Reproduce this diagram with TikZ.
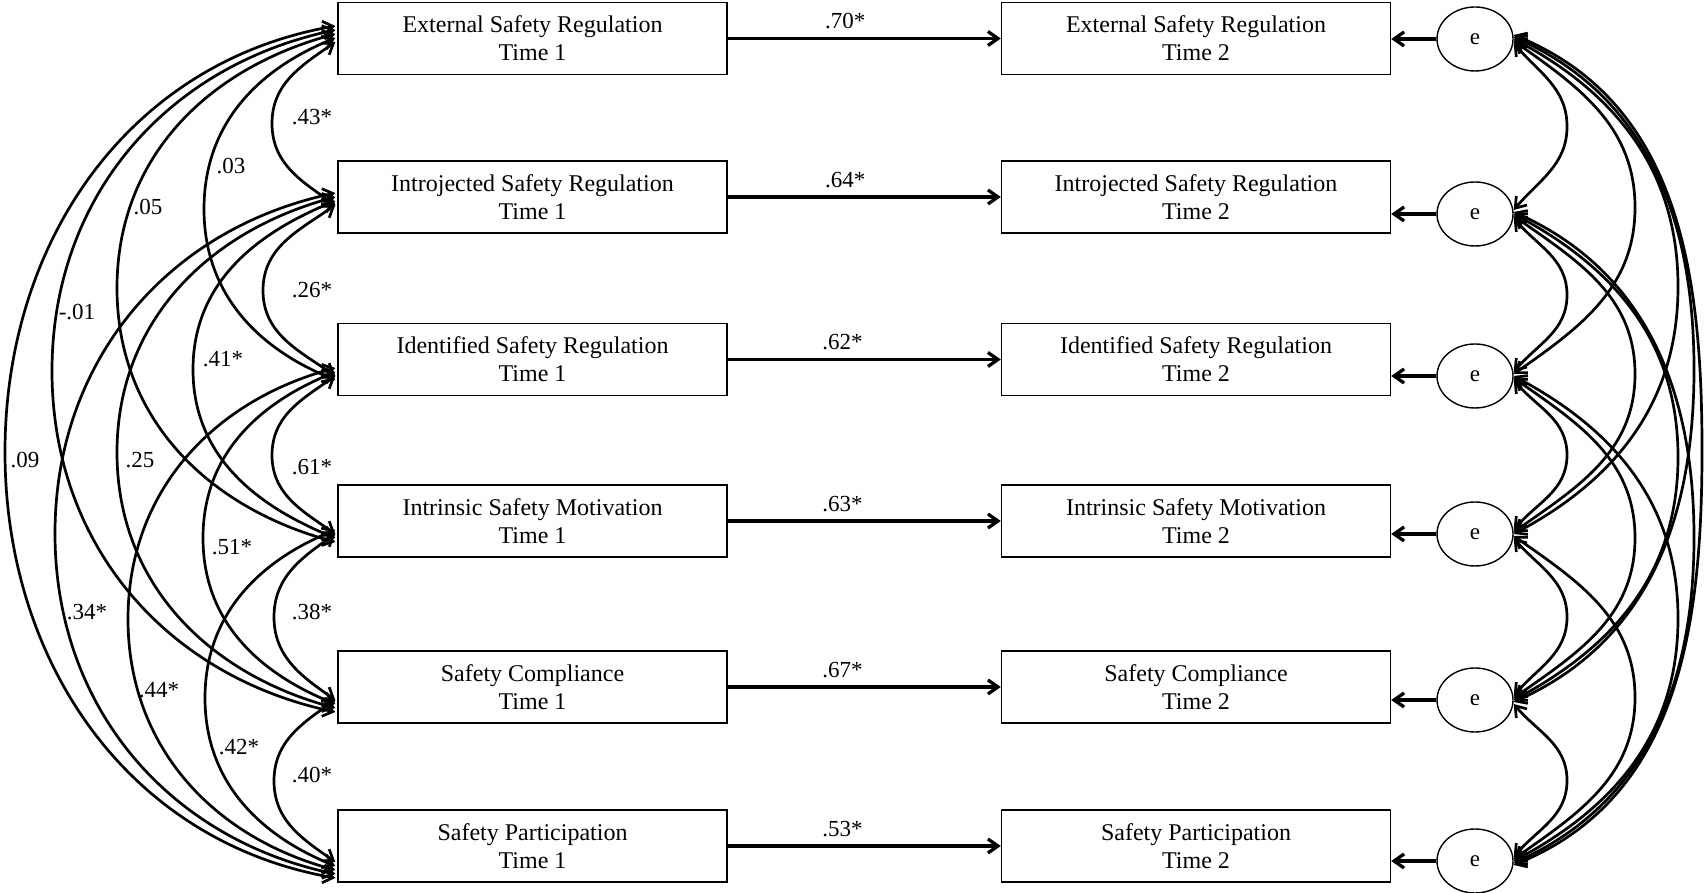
\documentclass[tikz,border=0pt]{standalone}
\usepackage{fontspec}
\setmainfont{Liberation Serif}
\usetikzlibrary{arrows.meta,shapes.geometric,calc}

% correlation arc bulging to the left between two attachment points
\newcommand\corrL[6]{%
  \draw[corr] let \p1=([yshift=#3pt]#1), \p2=([yshift=#4pt]#2) in
    (\p1) to[out={180+#6},in=90] (#5,{(\y1+\y2)/2}) to[out=270,in={180-#6}] (\p2);}
% correlation arc bulging to the right between two error terms
\newcommand\corrR[6]{%
  \draw[corr] let \p1=([yshift=#3pt]#1), \p2=([yshift=#4pt]#2) in
    (\p1) to[out={-#6},in=90] (#5,{(\y1+\y2)/2}) to[out=270,in={#6}] (\p2);}

\begin{document}
\begin{tikzpicture}[x=1pt,y=1pt,
  >={Straight Barb[length=10pt,width=14pt]},
  varbox/.style={draw, line width=1.4pt, minimum width=389pt, minimum height=72pt,
    align=center, inner sep=0pt, font=\fontsize{24}{28}\selectfont},
  errnode/.style={draw, ellipse, line width=1.4pt, minimum width=76pt,
    minimum height=64pt, inner sep=0pt, font=\fontsize{23}{26}\selectfont},
  path/.style={->, line width=3.3pt},
  corr/.style={<->, line width=2.7pt},
  coef/.style={font=\fontsize{23}{28}\selectfont, inner sep=0pt}
]
\useasboundingbox (0,0) rectangle (1707,893);

% Time 1 measures
\node[varbox] (T1) at (532.5,854.5) {External Safety Regulation\\Time 1};
\node[varbox] (T2) at (532.5,696)   {Introjected Safety Regulation\\Time 1};
\node[varbox] (T3) at (532.5,533.5) {Identified Safety Regulation\\Time 1};
\node[varbox] (T4) at (532.5,372)   {Intrinsic Safety Motivation\\Time 1};
\node[varbox] (T5) at (532.5,206)   {Safety Compliance\\Time 1};
\node[varbox] (T6) at (532.5,47)    {Safety Participation\\Time 1};

% Time 2 measures
\node[varbox] (S1) at (1196,854.5) {External Safety Regulation\\Time 2};
\node[varbox] (S2) at (1196,696)   {Introjected Safety Regulation\\Time 2};
\node[varbox] (S3) at (1196,533.5) {Identified Safety Regulation\\Time 2};
\node[varbox] (S4) at (1196,372)   {Intrinsic Safety Motivation\\Time 2};
\node[varbox] (S5) at (1196,206)   {Safety Compliance\\Time 2};
\node[varbox] (S6) at (1196,47)    {Safety Participation\\Time 2};

% error terms
\node[errnode] (e1) at (1475,854) {e};
\node[errnode] (e2) at (1475,679) {e};
\node[errnode] (e3) at (1475,517) {e};
\node[errnode] (e4) at (1475,359) {e};
\node[errnode] (e5) at (1475,193) {e};
\node[errnode] (e6) at (1475,32)  {e};

% stability paths
\draw[path] (T1) -- node[coef, pos=.43, yshift=17pt] (c1) {.70*} (S1);
\draw[path] (T2) -- node[coef, pos=.43, yshift=17pt] (c2) {.64*} (S2);
\draw[path] (T3) -- node[coef, pos=.42, yshift=17pt] (c3) {.62*} (S3);
\draw[path] (T4) -- node[coef, pos=.42, yshift=17pt] (c4) {.63*} (S4);
\draw[path] (T5) -- node[coef, pos=.42, yshift=17pt] (c5) {.67*} (S5);
\draw[path] (T6) -- node[coef, pos=.42, yshift=17pt] (c6) {.53*} (S6);

% error paths
\foreach \i in {1,...,6} \draw[path] (e\i) -- (e\i -| S\i.east);

% attachment points on the left of the Time 1 boxes
\path (T1.west |- 0,851) ++(-2,0) coordinate (a1);
\path (T2.west |- 0,688) ++(-2,0) coordinate (a2);
\path (T3.west |- 0,517) ++(-2,0) coordinate (a3);
\path (T4.west |- 0,359) ++(-2,0) coordinate (a4);
\path (T5.west |- 0,193) ++(-2,0) coordinate (a5);
\path (T6.west |- 0,31)  ++(-2,0) coordinate (a6);

% Time 1 correlations
\corrL{a1}{a2}{0}{0}{272}{35}
\corrL{a2}{a3}{0}{0}{263}{35}
\corrL{a3}{a4}{0}{0}{272}{35}
\corrL{a4}{a5}{0}{0}{274}{35}
\corrL{a5}{a6}{0}{0}{274}{35}
\corrL{a1}{a3}{4}{-4}{204}{22}
\corrL{a2}{a4}{4}{-4}{193}{22}
\corrL{a3}{a5}{4}{-4}{203}{22}
\corrL{a4}{a6}{4}{-4}{205}{22}
\corrL{a1}{a4}{8}{-8}{117}{15}
\corrL{a2}{a5}{8}{-8}{117}{15}
\corrL{a3}{a6}{8}{-8}{128}{15}
\corrL{a1}{a5}{12}{-12}{52}{12}
\corrL{a2}{a6}{12}{-12}{55}{12}
\corrL{a1}{a6}{16}{-16}{5}{10}

% correlation values
\node[coef] (r12) at (312,776) {.43*};
\node[coef] (r13) at (231,727) {.03};
\node[coef] (r14) at (148,686) {.05};
\node[coef] (r15) at (77,581)  {-.01};
\node[coef] (r23) at (312,603) {.26*};
\node[coef] (r24) at (223,534) {.41*};
\node[coef] (r16) at (25,433)  {.09};
\node[coef] (r25) at (140,433) {.25};
\node[coef] (r34) at (312,426) {.61*};
\node[coef] (r35) at (232,346) {.51*};
\node[coef] (r26) at (87,281)  {.34*};
\node[coef] (r45) at (312,281) {.38*};
\node[coef] (r36) at (159,203) {.44*};
\node[coef] (r46) at (239,146) {.42*};
\node[coef] (r56) at (312,118) {.40*};

% error correlations
\corrR{e1.east}{e2.east}{-4}{4}{1567}{50}
\corrR{e2.east}{e3.east}{-4}{4}{1567}{50}
\corrR{e3.east}{e4.east}{-4}{4}{1567}{50}
\corrR{e4.east}{e5.east}{-4}{4}{1567}{50}
\corrR{e5.east}{e6.east}{-4}{4}{1567}{50}
\corrR{e1.east}{e3.east}{-2}{2}{1635}{35}
\corrR{e2.east}{e4.east}{-2}{2}{1635}{35}
\corrR{e3.east}{e5.east}{-2}{2}{1635}{35}
\corrR{e4.east}{e6.east}{-2}{2}{1635}{35}
\corrR{e1.east}{e4.east}{0}{0}{1678}{28}
\corrR{e2.east}{e5.east}{0}{0}{1678}{28}
\corrR{e3.east}{e6.east}{0}{0}{1678}{28}
\corrR{e1.east}{e5.east}{2}{-2}{1694}{24}
\corrR{e2.east}{e6.east}{2}{-2}{1694}{24}
\corrR{e1.east}{e6.east}{4}{-4}{1702}{22}
\end{tikzpicture}
\end{document}
